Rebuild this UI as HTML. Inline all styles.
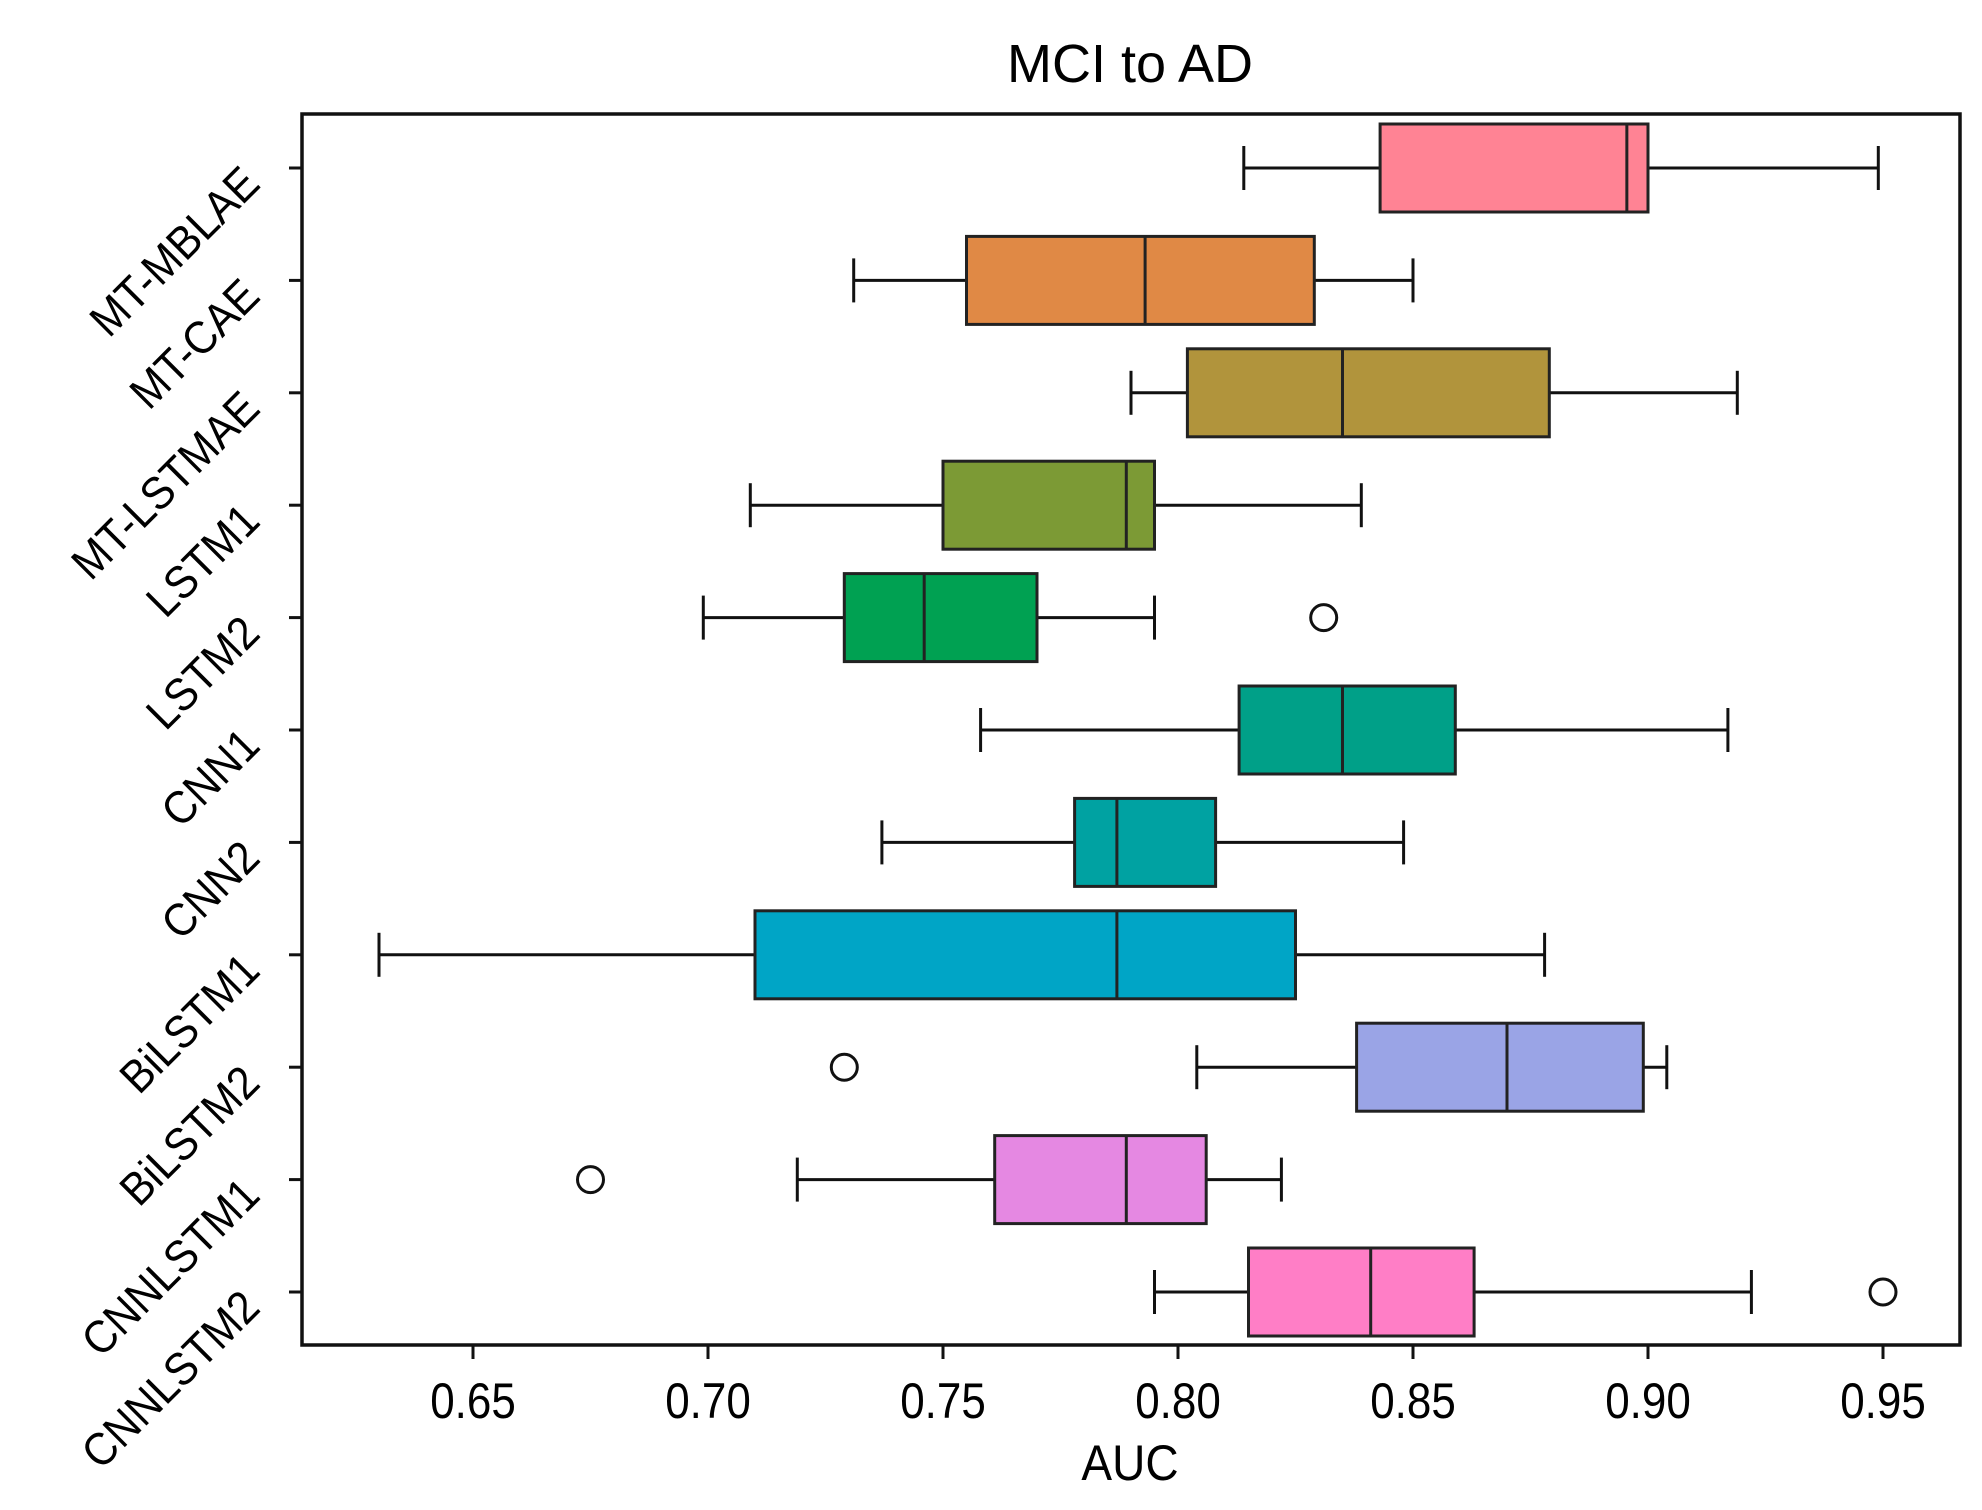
<!DOCTYPE html>
<html><head><meta charset="utf-8"><style>
html,body{margin:0;padding:0;background:#fff;}
svg{display:block;font-family:"Liberation Sans",Arial,sans-serif;}
</style></head><body>
<svg id="chart" width="1982" height="1510" viewBox="0 0 1982 1510">
<text x="1130" y="82" font-size="54" text-anchor="middle">MCI to AD</text>
<text x="1130" y="1480" font-size="50" text-anchor="middle" transform="translate(1130,0) scale(0.92,1) translate(-1130,0)">AUC</text>
<g id="marks"></g>
<rect x="302" y="114" width="1658" height="1231" fill="none" stroke="#111" stroke-width="3.5"/>
</svg>
<script>
const categories=["MT-MBLAE","MT-CAE","MT-LSTMAE","LSTM1","LSTM2","CNN1","CNN2","BiLSTM1","BiLSTM2","CNNLSTM1","CNNLSTM2"];
const whiskerLow=[0.814,0.731,0.790,0.709,0.699,0.758,0.737,0.630,0.804,0.719,0.795];
const q1=[0.843,0.755,0.802,0.750,0.729,0.813,0.778,0.710,0.838,0.761,0.815];
const median=[0.8955,0.793,0.835,0.789,0.746,0.835,0.787,0.787,0.870,0.789,0.841];
const q3=[0.900,0.829,0.879,0.795,0.770,0.859,0.808,0.825,0.899,0.806,0.863];
const whiskerHigh=[0.949,0.850,0.919,0.839,0.795,0.917,0.848,0.878,0.904,0.822,0.922];
const outliers=[[],[],[],[],[0.831],[],[],[],[0.729],[0.675],[0.950]];
const colors=["#ff8394","#e08945","#b1943c","#7c9a35","#00a152","#00a088","#00a2a2","#00a5c6","#9aa4e6","#e588e2","#ff7ec6"];
const xTicks=[0.65,0.70,0.75,0.80,0.85,0.90,0.95];
const xTickLabels=["0.65","0.70","0.75","0.80","0.85","0.90","0.95"];

const NS="http://www.w3.org/2000/svg";
const g=document.getElementById('marks');
const xScale=v=>473+(v-0.65)*4700;
const yScale=i=>168+i*112.4;
const half=44;
function mk(tag,attrs,parent){const e=document.createElementNS(NS,tag);for(const k in attrs)e.setAttribute(k,attrs[k]);(parent||g).appendChild(e);return e;}

xTicks.forEach((t,i)=>{
  const x=xScale(t);
  const tk=mk('line',{x1:x,x2:x,y1:1345,y2:1359,stroke:'#111','stroke-width':3});
  
  
  const tl=mk('text',{x:0,y:0,'font-size':50,'text-anchor':'middle',transform:`translate(${x},1418) scale(0.88,1)`});
  tl.textContent=xTickLabels[i];
  
  
});

categories.forEach((c,i)=>{
  const y=yScale(i);
  const tk=mk('line',{x1:289,x2:302,y1:y,y2:y,stroke:'#111','stroke-width':3});
  
  
  const tl=mk('text',{x:0,y:0,'font-size':46,'text-anchor':'end',transform:`translate(262,${y+18}) rotate(-45) scale(0.92,1)`});
  tl.textContent=c;
  
  

  const grp=mk('g',{});
  
  
  const wl=xScale(whiskerLow[i]),a=xScale(q1[i]),m=xScale(median[i]),b=xScale(q3[i]),wh=xScale(whiskerHigh[i]);
  mk('line',{x1:wl,x2:a,y1:y,y2:y,stroke:'#111','stroke-width':3},grp);
  mk('line',{x1:b,x2:wh,y1:y,y2:y,stroke:'#111','stroke-width':3},grp);
  mk('line',{x1:wl,x2:wl,y1:y-22,y2:y+22,stroke:'#111','stroke-width':3},grp);
  mk('line',{x1:wh,x2:wh,y1:y-22,y2:y+22,stroke:'#111','stroke-width':3},grp);
  mk('rect',{x:a,y:y-half,width:b-a,height:2*half,fill:colors[i],stroke:'#222','stroke-width':3},grp);
  mk('line',{x1:m,x2:m,y1:y-half,y2:y+half,stroke:'#222','stroke-width':3},grp);
  outliers[i].forEach(o=>{
    const oc=mk('circle',{cx:xScale(o),cy:y,r:13,fill:'none',stroke:'#111','stroke-width':3},grp);
    
    
  });
});
</script>
</body></html>
